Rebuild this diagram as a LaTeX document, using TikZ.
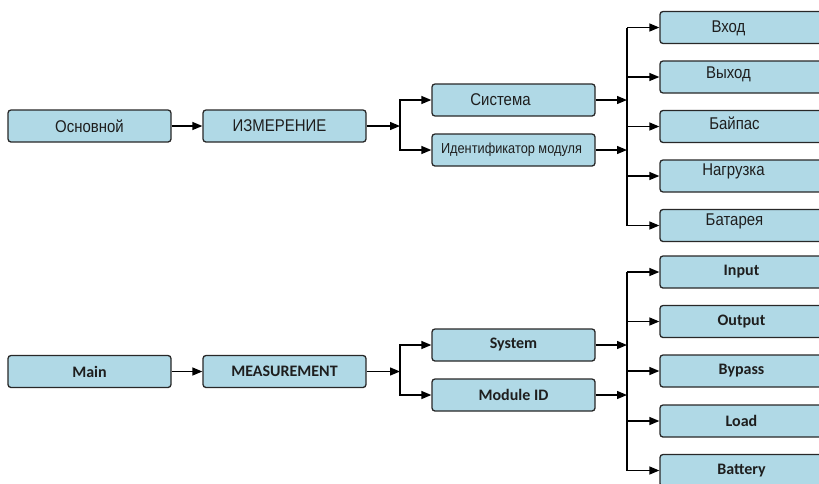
\documentclass[tikz,border=0pt]{standalone}
\usepackage{fontspec}
\setmainfont{Liberation Sans}
\newfontfamily\rufont[FakeStretch=0.88]{Liberation Sans}
\newfontfamily\enfont{Carlito}
\usetikzlibrary{arrows.meta}
\definecolor{boxfill}{RGB}{176,217,230}
\definecolor{boxline}{RGB}{40,40,40}
\definecolor{txt}{RGB}{30,30,30}
\tikzset{
  box/.style={draw=boxline, line width=1.3pt, fill=boxfill, rounded corners=3pt,
    minimum width=163pt, minimum height=32pt, inner sep=0pt},
  rutxt/.style={font=\rufont\fontsize{17}{20}\selectfont, text=txt, inner sep=0pt},
  rusmall/.style={font=\rufont\fontsize{14.5}{17}\selectfont, text=txt, inner sep=0pt},
  entxt/.style={font=\enfont\bfseries\fontsize{16}{19}\selectfont, text=txt, inner sep=0pt},
  arr/.style={line width=1.3pt, draw=black, -{Triangle[length=10pt,width=8pt]}},
  bus/.style={line width=1.3pt, draw=black},
}
\begin{document}
\begin{tikzpicture}[x=1pt,y=-1pt]
\useasboundingbox (0,0) rectangle (819,483);
\clip (0,0) rectangle (819,483);
% ---------- top (Russian) ----------
\node[box] (osn) at (89.5,126) {};
\node[rutxt] (tosn) at (osn.center) {Основной};
\node[box] (izm) at (284.5,126) {};
\node[rutxt] (tizm) at ([xshift=-5pt]izm.center) {ИЗМЕРЕНИЕ};
\node[box] (sys) at (513.5,100) {};
\node[rutxt] (tsys) at ([xshift=-13pt]sys.center) {Система};
\node[box] (mid) at (513.5,150) {};
\node[rusmall] (tmid) at ([xshift=-2pt]mid.center) {Идентификатор модуля};
\node[box] (vin) at (741.5,27.5) {};
\node[rutxt] (tvin) at ([xshift=-13pt,yshift=-1pt]vin.center) {Вход};
\node[box] (vout) at (741.5,77) {};
\node[rutxt] (tvout) at ([xshift=-13pt,yshift=3pt]vout.center) {Выход};
\node[box] (vbyp) at (741.5,126.5) {};
\node[rutxt] (tvbyp) at ([xshift=-7pt,yshift=3pt]vbyp.center) {Байпас};
\node[box] (vload) at (741.5,176) {};
\node[rutxt] (tvload) at ([xshift=-8pt,yshift=5pt]vload.center) {Нагрузка};
\node[box] (vbat) at (741.5,225.5) {};
\node[rutxt] (tvbat) at ([xshift=-7pt,yshift=4pt]vbat.center) {Батарея};
\draw[arr] (osn.east) -- (izm.west);
\coordinate (b1) at (400,126);
\draw[arr] (izm.east) -- (b1);
\draw[arr] (b1) |- (sys.west);
\draw[arr] (b1) |- (mid.west);
\coordinate (r1) at (627,0);
\draw[bus] (r1 |- vin.west) -- (r1 |- vbat.west);
\draw[arr] (sys.east) -- (sys.east -| r1);
\draw[arr] (mid.east) -- (mid.east -| r1);
\foreach \n in {vin,vout,vbyp,vload,vbat} \draw[arr] (r1 |- \n.west) -- (\n.west);
% ---------- bottom (English) ----------
\node[box] (main) at (89.5,371.5) {};
\node[entxt] (tmain) at (main.center) {Main};
\node[box] (meas) at (284.5,371.5) {};
\node[entxt] (tmeas) at (meas.center) {MEASUREMENT};
\node[box] (esys) at (513.5,345) {};
\node[entxt] (tesys) at (esys.center) {System};
\node[box] (emid) at (513.5,395) {};
\node[entxt] (temid) at (emid.center) {Module ID};
\node[box] (ein) at (741.5,272) {};
\node[entxt] (tein) at (ein.center) {Input};
\node[box] (eout) at (741.5,321.5) {};
\node[entxt] (teout) at (eout.center) {Output};
\node[box] (ebyp) at (741.5,371) {};
\node[entxt] (tebyp) at (ebyp.center) {Bypass};
\node[box] (eload) at (741.5,421) {};
\node[entxt] (teload) at (eload.center) {Load};
\node[box] (ebat) at (741.5,470.5) {};
\node[entxt] (tebat) at (ebat.center) {Battery};
\draw[arr] (main.east) -- (meas.west);
\coordinate (b2) at (400,371.5);
\draw[arr] (meas.east) -- (b2);
\draw[arr] (b2) |- (esys.west);
\draw[arr] (b2) |- (emid.west);
\coordinate (r2) at (627,0);
\draw[bus] (r2 |- ein.west) -- (r2 |- ebat.west);
\draw[arr] (esys.east) -- (esys.east -| r2);
\draw[arr] (emid.east) -- (emid.east -| r2);
\foreach \n in {ein,eout,ebyp,eload,ebat} \draw[arr] (r2 |- \n.west) -- (\n.west);
\end{tikzpicture}
\end{document}
